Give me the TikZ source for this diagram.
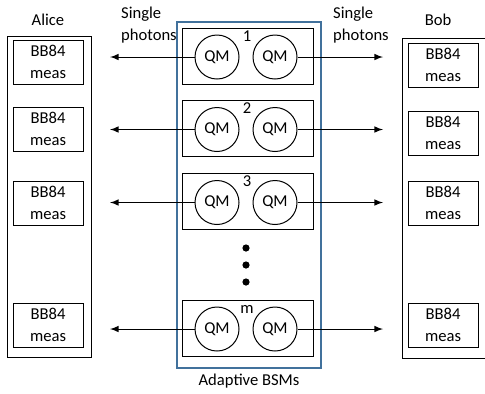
\documentclass[tikz,border=0pt]{standalone}
\usepackage{fontspec}
\setmainfont{Carlito}
\usepackage{tikz}
\definecolor{bsmblue}{RGB}{65,113,156}

\begin{document}
\begin{tikzpicture}[>=latex, x=0.5pt, y=-0.5pt, line width=0.5pt,
    font=\fontsize{8.3}{11.3}\selectfont,
    meas/.style={draw, minimum width=35pt, minimum height=22pt, inner sep=0pt, align=center},
    bsm/.style={draw, minimum width=65.5pt, minimum height=28pt, inner sep=0pt},
    qm/.style={draw, circle, minimum size=22pt, inner sep=0pt}]
\useasboundingbox (0,0) rectangle (485,393);
% Alice, Bob and the BSM stations
\draw (7,36) rectangle (91,357);
\draw (402,38) rectangle (492,358);
\draw[bsmblue, line width=1.2pt] (177,22) rectangle (321,368);
\node (alice) at (48,20) {Alice};
\node (bob) at (438,20) {Bob};
\node[anchor=west, align=left] (photl) at (114,25) {Single\\photons};
\node[anchor=west, align=left] (photr) at (326,25) {Single\\photons};
\node (bsms) at (249,381) {Adaptive BSMs};
%(y of the station)/(label)/(y of Alice's box)/(y of Bob's box)
\foreach \y/\n/\ay/\by [count=\i] in {56/1/62/65, 128.5/2/129/133, 201.5/3/203/203, 328/m/325/325}{
    \node[meas] (ma\i) at (48,\ay) {BB84\\meas};
    \node[meas] (mb\i) at (443,\by) {BB84\\meas};
    \node[bsm] (bsm\i) at (247.5,\y) {};
    \node[qm] (qa\i) at (217,\y+1) {QM};
    \node[qm] (qb\i) at (275,\y+1) {QM};
    \node[anchor=base] (lab\i) at (247,\y-15) {\n};
    \coordinate (la\i) at (110,\y+1);
    \coordinate (lb\i) at (383,\y+1);
    \draw[->] (qa\i.west) -- (la\i);
    \draw[->] (qb\i.east) -- (lb\i);
}
% dots between station 3 and m
\foreach \d in {248,265,282}
    \fill (246,\d) circle (1.8pt);
\end{tikzpicture}
\end{document}
